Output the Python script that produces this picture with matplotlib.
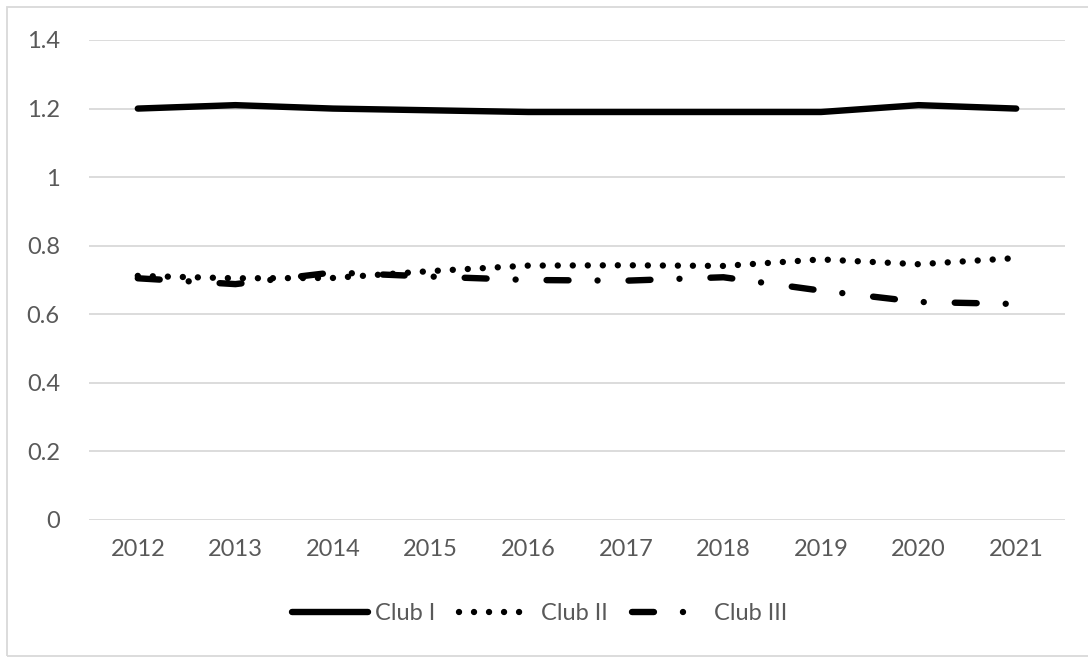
import matplotlib
matplotlib.use("Agg")
import matplotlib.pyplot as plt
from matplotlib.patches import Rectangle

years = ["2012", "2013", "2014", "2015", "2016", "2017", "2018", "2019", "2020", "2021"]
club_1 = [1.20, 1.21, 1.20, 1.195, 1.19, 1.19, 1.19, 1.19, 1.21, 1.20]
club_2 = [0.712, 0.705, 0.706, 0.726, 0.742, 0.743, 0.741, 0.760, 0.746, 0.764]
club_3 = [0.705, 0.688, 0.722, 0.710, 0.700, 0.698, 0.708, 0.669, 0.636, 0.630]
labels = ["Club I", "Club II", "Club III"]
yticks = [0, 0.2, 0.4, 0.6, 0.8, 1, 1.2, 1.4]
ytick_labels = ["0", "0.2", "0.4", "0.6", "0.8", "1", "1.2", "1.4"]

plt.rcParams["font.family"] = ["Lato", "DejaVu Sans"]
plt.rcParams["lines.scale_dashes"] = False

W, H = 1088, 657
fig = plt.figure(figsize=(W / 100, H / 100), dpi=100)
ax = fig.add_axes([89 / W, 1 - 520 / H, (1065 - 89) / W, (520 - 40) / H])

x = list(range(len(years)))
lw = 4.6
ax.plot(x, club_1, color="black", lw=lw, solid_capstyle="round", solid_joinstyle="round", label=labels[0])
ax.plot(x, club_2, color="black", lw=lw, dashes=(0.01, 10.8), dash_capstyle="round", label=labels[1])
ax.plot(x, club_3, color="black", lw=lw, dashes=(15.8, 20.9, 0.01, 22.3), dash_capstyle="round", label=labels[2])

ax.set_xlim(-0.5, len(years) - 0.5)
ax.set_ylim(0, 1.4)
ax.set_xticks(x)
ax.set_xticklabels(years)
ax.set_yticks(yticks)
ax.set_yticklabels(ytick_labels)
ax.grid(axis="y", color="#d9d9d9", lw=1.3)
ax.set_axisbelow(True)
for s in ax.spines.values():
    s.set_visible(False)
ax.tick_params(axis="both", length=0, labelsize=17, labelcolor="#595959")
ax.tick_params(axis="y", pad=21)
ax.tick_params(axis="x", pad=14)

leg = fig.legend(loc="center", bbox_to_anchor=(540 / W, 1 - 614 / H), ncol=3, frameon=False,
                 fontsize=17, labelcolor="#595959", handlelength=3.2, handletextpad=0.3,
                 columnspacing=1.0)

fig.patches.append(Rectangle((7 / W, 1 - 656 / H), (W + 20) / W, (656 - 7) / H,
                             transform=fig.transFigure, fill=False, edgecolor="#d9d9d9",
                             lw=1.3, clip_on=False))

fig.savefig("out.png", dpi=100)
